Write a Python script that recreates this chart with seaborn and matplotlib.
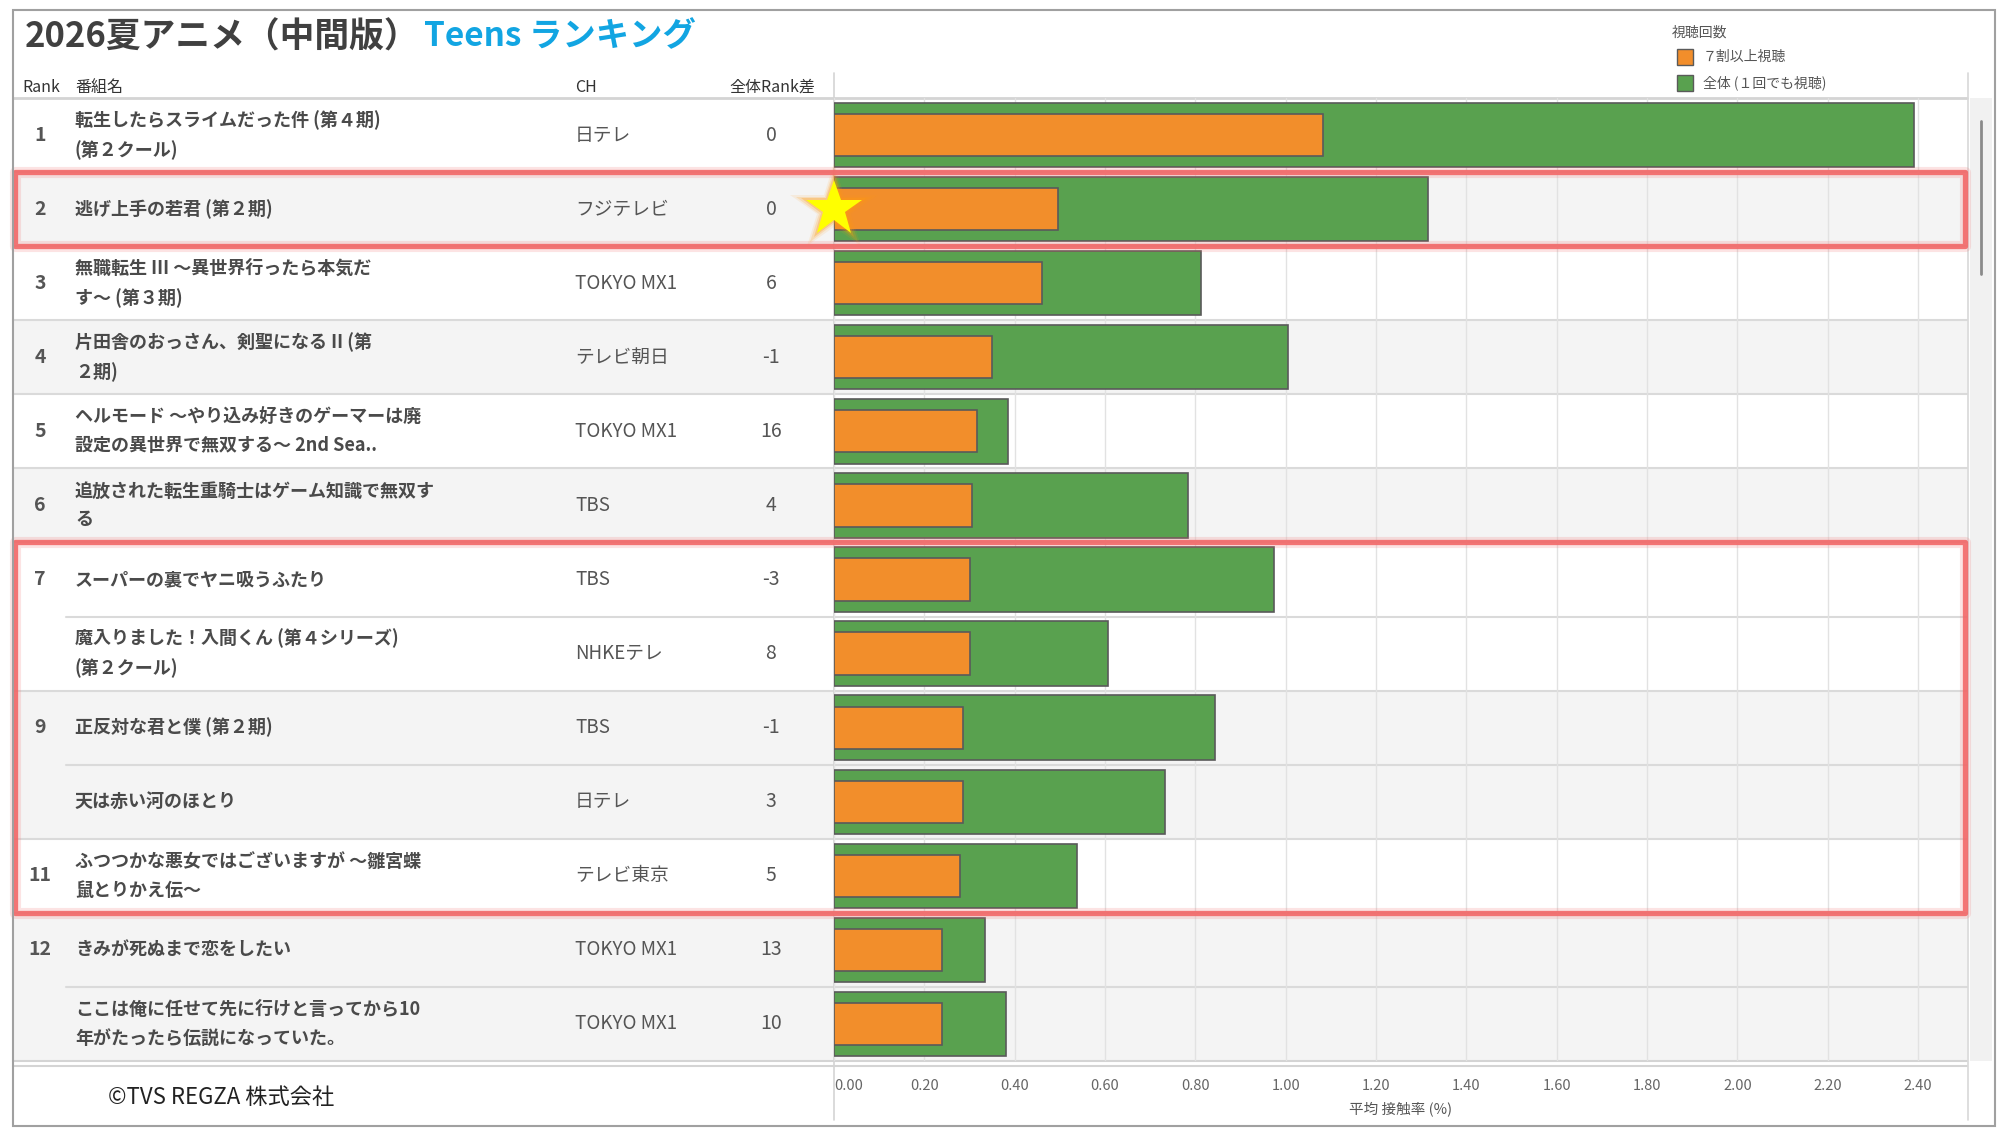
import numpy as np
import pandas as pd
import matplotlib
matplotlib.use("Agg")
import matplotlib.pyplot as plt
import seaborn as sns
from matplotlib.patches import Rectangle

# ---------------- data ----------------
ranks = [1, 2, 3, 4, 5, 6, 7, 7, 9, 9, 11, 12, 12]
titles = [
    "転生したらスライムだった件 (第４期)\n(第２クール)",
    "逃げ上手の若君 (第２期)",
    "無職転生 III ～異世界行ったら本気だ\nす～ (第３期)",
    "片田舎のおっさん、剣聖になる II (第\n２期)",
    "ヘルモード ～やり込み好きのゲーマーは廃\n設定の異世界で無双する～ 2nd Sea..",
    "追放された転生重騎士はゲーム知識で無双す\nる",
    "スーパーの裏でヤニ吸うふたり",
    "魔入りました！入間くん (第４シリーズ)\n(第２クール)",
    "正反対な君と僕 (第２期)",
    "天は赤い河のほとり",
    "ふつつかな悪女ではございますが ～雛宮蝶\n鼠とりかえ伝～",
    "きみが死ぬまで恋をしたい",
    "ここは俺に任せて先に行けと言ってから10\n年がたったら伝説になっていた。",
]
channels = ["日テレ", "フジテレビ", "TOKYO MX1", "テレビ朝日", "TOKYO MX1", "TBS", "TBS",
            "NHKEテレ", "TBS", "日テレ", "テレビ東京", "TOKYO MX1", "TOKYO MX1"]
rank_diff = ["0", "0", "6", "-1", "16", "4", "-3", "8", "-1", "3", "5", "13", "10"]
total_rate = [2.391, 1.316, 0.813, 1.004, 0.385, 0.783, 0.973, 0.606, 0.844, 0.733, 0.538, 0.335, 0.381]
heavy_rate = [1.082, 0.496, 0.461, 0.350, 0.316, 0.305, 0.301, 0.301, 0.285, 0.285, 0.280, 0.238, 0.238]
x_ticks = [0.00, 0.20, 0.40, 0.60, 0.80, 1.00, 1.20, 1.40, 1.60, 1.80, 2.00, 2.20, 2.40]
legend_title = "視聴回数"
legend_labels = ["７割以上視聴", "全体 (１回でも視聴)"]
star_rank = 2
highlight_ranges = [(2, 2), (7, 11)]

# ---------------- style ----------------
sns.set_theme(style="white")
plt.rcParams["font.family"] = ["Noto Sans CJK JP", "DejaVu Sans"]

GREEN = "#59A14F"
ORANGE = "#F28E2B"
EDGE = "#5A5A5A"
TXT = "#555555"
NAME = "#4A4A4A"
BAND = "#F4F4F4"
LINE = "#DADADA"
RED = "#F26868"

W, H = 1999, 1128
def fx(px):
    return px / W
def fy(py):
    return 1 - py / H

TOP, BOT = 98, 1061
LEFT, RIGHT = 13, 1967
BAR_L = 834
PX_PER_UNIT = 451.7
n = len(titles)

fig = plt.figure(figsize=(W / 100, H / 100), dpi=100)
fig.patch.set_facecolor("white")

# ---------------- background / table axes ----------------
bg = fig.add_axes([fx(LEFT), fy(BOT), (RIGHT - LEFT) / W, (BOT - TOP) / H], zorder=0)
bg.set_xlim(LEFT, RIGHT)
bg.set_ylim(n - 0.5, -0.5)
bg.axis("off")

group = []
g = -1
for i, r in enumerate(ranks):
    if i == 0 or r != ranks[i - 1]:
        g += 1
    group.append(g)

for i in range(n):
    if group[i] % 2 == 1:
        bg.axhspan(i - 0.5, i + 0.5, color=BAND, lw=0, zorder=0)

for i in range(1, n):
    xs = 66 if ranks[i] == ranks[i - 1] else LEFT
    bg.plot([xs, RIGHT], [i - 0.5, i - 0.5], color=LINE, lw=1.5, zorder=1, clip_on=False)

for i in range(n):
    if i == 0 or ranks[i] != ranks[i - 1]:
        bg.text(40, i, str(ranks[i]), ha="center", va="center", fontsize=14,
                weight="bold", color=TXT)
    bg.text(75, i, titles[i], ha="left", va="center", fontsize=13, weight="bold",
            color=NAME, linespacing=1.65)
    bg.text(575, i, channels[i], ha="left", va="center", fontsize=13.5, color=TXT)
    bg.text(771, i, rank_diff[i], ha="center", va="center", fontsize=14, color=TXT)

# ---------------- bar axes ----------------
ax = fig.add_axes([fx(BAR_L), fy(BOT), (RIGHT - BAR_L) / W, (BOT - TOP) / H], zorder=2)
ax.patch.set_alpha(0)
df = pd.DataFrame({"title": titles, "total": total_rate, "heavy": heavy_rate})
sns.barplot(data=df, x="total", y="title", order=titles, color=GREEN, saturation=1,
            width=0.87, edgecolor=EDGE, linewidth=1.2, errorbar=None, ax=ax)
sns.barplot(data=df, x="heavy", y="title", order=titles, color=ORANGE, saturation=1,
            width=0.57, edgecolor=EDGE, linewidth=1.2, errorbar=None, ax=ax)
ax.set_xlim(0, (RIGHT - BAR_L) / PX_PER_UNIT)
ax.set_ylim(n - 0.5, -0.5)
ax.set_yticks([])
ax.set_ylabel("")
ax.set_xticks(x_ticks)
ax.set_xticklabels([f"{t:.2f}" for t in x_ticks])
ax.get_xticklabels()[0].set_ha("left")
ax.tick_params(axis="x", length=0, pad=13, labelsize=10.5, labelcolor="#666666")
ax.grid(axis="x", color="#E2E2E2", lw=1)
ax.set_axisbelow(True)
for s in ax.spines.values():
    s.set_visible(False)
ax.set_xlabel("平均 接触率 (%)", fontsize=10.5, color=TXT, labelpad=6)

# star marker on highlighted row
si = ranks.index(star_rank)
for ms, a in [(66, 0.10), (58, 0.18), (50, 0.30)]:
    ax.plot([0], [si], marker="*", markersize=ms, color="#FF9A10", alpha=a,
            mew=0, clip_on=False, zorder=9)
ax.plot([0], [si], marker="*", markersize=42, color="#FFFF00", mew=0,
        clip_on=False, zorder=10)

# ---------------- overlay (red boxes) ----------------
ov = fig.add_axes([fx(LEFT), fy(BOT), (RIGHT - LEFT) / W, (BOT - TOP) / H], zorder=5)
ov.set_xlim(LEFT, RIGHT)
ov.set_ylim(n - 0.5, -0.5)
ov.axis("off")
for r0, r1 in highlight_ranges:
    i0 = ranks.index(r0)
    i1 = len(ranks) - 1 - ranks[::-1].index(r1)
    for lw, a in [(8, 0.18), (3.8, 0.9)]:
        ov.add_patch(Rectangle((LEFT + 2, i0 - 0.5), RIGHT - LEFT - 4, i1 - i0 + 1,
                               fill=False, ec=RED, lw=lw, alpha=a, joinstyle="round",
                               clip_on=False))

# ---------------- frame lines ----------------
def hline(y, x0, x1, c=LINE, lw=1.5):
    fig.add_artist(plt.Line2D([fx(x0), fx(x1)], [fy(y), fy(y)], color=c, lw=lw,
                              transform=fig.transFigure, zorder=1))
def vline(x, y0, y1, c=LINE, lw=1.2):
    fig.add_artist(plt.Line2D([fx(x), fx(x)], [fy(y0), fy(y1)], color=c, lw=lw,
                              transform=fig.transFigure, zorder=1))

hline(TOP, LEFT, RIGHT, "#D4D4D4", 2)
hline(BOT, LEFT, RIGHT, "#D4D4D4", 1.5)
hline(BOT + 5, LEFT, RIGHT, "#D4D4D4", 1.5)
vline(BAR_L, 73, 1120, "#D4D4D4", 1.2)
vline(RIGHT + 1, 73, 1120, "#D8D8D8", 1.2)

# scrollbar
fig.add_artist(Rectangle((fx(1970), fy(BOT)), 22 / W, (BOT - TOP) / H,
                         transform=fig.transFigure, color="#F1F1F1", lw=0, zorder=1))
vline(1981, 121, 274, "#8A8A8A", 2)

# outer frame
fig.add_artist(Rectangle((fx(13), fy(1126)), (1995 - 13) / W, (1126 - 10) / H,
                         transform=fig.transFigure, fill=False, ec="#A0A0A0", lw=1.5,
                         zorder=6))

# ---------------- header / title ----------------
hy = fy(87)
fig.text(fx(22), hy, "Rank", fontsize=11.5, color="#333333", va="center")
fig.text(fx(75), hy, "番組名", fontsize=11.5, color="#333333", va="center")
fig.text(fx(575), hy, "CH", fontsize=11.5, color="#333333", va="center")
fig.text(fx(815), hy, "全体Rank差", fontsize=11.5, color="#333333", va="center", ha="right")

t1 = fig.text(fx(25), fy(37), "2026夏アニメ（中間版）", fontsize=25, weight="bold",
              color="#404040", va="center")
bg.annotate("Teens ランキング", xy=(1, 0.5), xycoords=t1, xytext=(3, 0),
            textcoords="offset points", va="center", ha="left", fontsize=24,
            weight="bold", color="#12A5E2", annotation_clip=False)

fig.text(fx(108), fy(1097), "©TVS REGZA 株式会社", fontsize=16, color="#222222",
         va="center")

# ---------------- legend ----------------
fig.text(fx(1672), fy(33), legend_title, fontsize=10, color=TXT, va="center")
for k, (lab, col) in enumerate(zip(legend_labels, [ORANGE, GREEN])):
    yc = 57 + 26 * k
    fig.add_artist(Rectangle((fx(1677), fy(yc + 8)), 16 / W, 16 / H,
                             transform=fig.transFigure, fc=col, ec=EDGE, lw=1))
    fig.text(fx(1703), fy(yc), lab, fontsize=10, color=TXT, va="center")

fig.savefig("out.png", dpi=100, facecolor="white")
